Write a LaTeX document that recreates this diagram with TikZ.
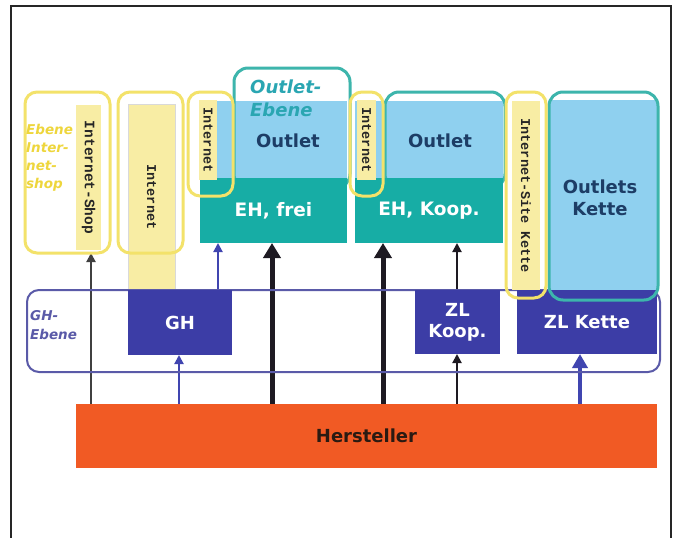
\documentclass[tikz,border=0pt]{standalone}
\usepackage{fontspec}
\setmainfont{DejaVu Sans}
\newfontfamily\monof{Liberation Mono}
\usetikzlibrary{arrows.meta}
\definecolor{ylw}{HTML}{F3E26A}
\definecolor{pale}{HTML}{F8EDA4}
\definecolor{ytext}{HTML}{EED63C}
\definecolor{lb}{HTML}{8FD0EF}
\definecolor{tealc}{HTML}{17ADA5}
\definecolor{tealo}{HTML}{3DB5AC}
\definecolor{tealt}{HTML}{2AA6B2}
\definecolor{navy}{HTML}{1D3D66}
\definecolor{db}{HTML}{3C3DA6}
\definecolor{gho}{HTML}{5A5AA8}
\definecolor{orng}{HTML}{F15A24}
\definecolor{darkt}{HTML}{2A1A12}
\definecolor{arrk}{HTML}{1E1A22}
\definecolor{arrb}{HTML}{4045B0}
\pgfdeclarelayer{back}
\pgfsetlayers{back,main}
\begin{document}
\begin{tikzpicture}[x=1pt,y=-1pt,
  box/.style={anchor=north west, inner sep=0pt, outer sep=0pt},
  ybox/.style={box, draw=ylw, line width=3pt, rounded corners=12pt},
  stripbox/.style={box, fill=pale},
  lbbox/.style={box, fill=lb},
  tealbox/.style={box, fill=tealc, text=white, font=\bfseries\fontsize{18.5}{22}\selectfont},
  toutline/.style={box, draw=tealo, line width=3pt, rounded corners=14pt},
  dbbox/.style={box, fill=db, text=white, align=center, font=\bfseries\fontsize{18}{21}\selectfont},
  vtext/.style={rotate=-90, font=\monof\bfseries\fontsize{13.5}{14}\selectfont, text=black!85, inner sep=0pt},
  navytext/.style={text=navy, align=center, font=\bfseries\fontsize{18}{23}\selectfont, inner sep=0pt},
  thinarr/.style={line width=2pt, -{Triangle[width=9pt,length=9pt]}},
  thickarr/.style={line width=5pt, -{Triangle[width=17pt,length=15pt]}},
]
\useasboundingbox (0,0) rectangle (680,538);
\begin{pgfonlayer}{back}
\fill[white] (0,0) rectangle (680,538);
\end{pgfonlayer}
\draw[line width=1.2pt, black!85] (11,538) -- (11,6) -- (671,6) -- (671,538);

% left internet-shop level
\node[stripbox, minimum width=25pt, minimum height=145pt] (s1) at (76,105) {};
\node[vtext, font=\monof\bfseries\fontsize{14.5}{15}\selectfont] (t1) at (s1.center) {Internet-Shop};
\node[ybox, minimum width=85pt, minimum height=161pt] (b1) at (25,92) {};
\node[anchor=north west, inner sep=0pt, align=left, text=ytext, font=\bfseries\itshape\fontsize{13.5}{18}\selectfont] (l1) at (26,124) {Ebene\\Inter-\\net-\\shop};

\node[stripbox, draw=black!15, line width=0.6pt, minimum width=47pt, minimum height=186pt] (s2) at (128,104) {};
\node[vtext] (t2) at (s2.center) {Internet};
\node[ybox, minimum width=65pt, minimum height=161pt] (b2) at (118,92) {};

% first outlet column
\node[lbbox, minimum width=147pt, minimum height=77pt] (lb1) at (200,101) {};
\node[toutline, minimum width=116pt, minimum height=120pt] (o1) at (234,68) {};
\node[tealbox, minimum width=147pt, minimum height=65pt] (eh1) at (200,178) {EH, frei};
\node[navytext] (ou1) at (288,141) {Outlet};
\node[anchor=north west, inner sep=0pt, align=left, text=tealt, font=\bfseries\itshape\fontsize{18}{23}\selectfont] (oe) at (250,80) {Outlet-\\Ebene};
\node[stripbox, minimum width=18pt, minimum height=80pt] (s3) at (199,100) {};
\node[vtext] (t3) at (s3.center) {Internet};
\node[ybox, minimum width=45pt, minimum height=104pt] (b3) at (188,92) {};

% second outlet column
\node[lbbox, minimum width=148pt, minimum height=77pt] (lb2) at (355,101) {};
\node[toutline, minimum width=120pt, minimum height=96pt] (o2) at (385,92) {};
\node[tealbox, minimum width=148pt, minimum height=65pt] (eh2) at (355,178) {EH, Koop.};
\node[navytext] (ou2) at (440,141) {Outlet};
\node[stripbox, minimum width=19pt, minimum height=80pt] (s4) at (357,100) {};
\node[vtext] (t4) at (s4.center) {Internet};
\node[ybox, minimum width=33pt, minimum height=104pt] (b4) at (350,92) {};

% GH level
\node[box, draw=gho, line width=2pt, rounded corners=12pt, minimum width=633pt, minimum height=82pt] (ghe) at (27,290) {};
\node[anchor=north west, inner sep=0pt, align=left, text=gho, font=\bfseries\itshape\fontsize{13.5}{19}\selectfont] (ghl) at (30,310) {GH-\\Ebene};
\node[dbbox, minimum width=104pt, minimum height=65pt] (gh) at (128,290) {GH};
\node[dbbox, minimum width=85pt, minimum height=64pt] (zlk) at (415,290) {ZL\\Koop.};
\node[dbbox, minimum width=140pt, minimum height=64pt] (zlc) at (517,290) {ZL Kette};

% outlets chain
\node[lbbox, minimum width=109pt, minimum height=190pt] (lb3) at (549,100) {};
\node[navytext, font=\bfseries\fontsize{18}{22}\selectfont] (ou3) at (600,198) {Outlets\\Kette};
\node[toutline, minimum width=109pt, minimum height=208pt] (o3) at (549,92) {};
\node[stripbox, minimum width=28pt, minimum height=189pt] (s5) at (512,101) {};
\node[vtext] (t5) at (s5.center) {Internet-Site Kette};
\node[ybox, minimum width=40pt, minimum height=206pt] (b5) at (506,92) {};

% manufacturer
\node[box, fill=orng, text=darkt, font=\bfseries\fontsize{18}{21}\selectfont, minimum width=581pt, minimum height=64pt] (hers) at (76,404) {Hersteller};

% arrow columns
\coordinate (c1) at (91,0);
\coordinate (c2) at (179,0);
\coordinate (c3) at (218,0);
\coordinate (c4) at (272,0);
\coordinate (c5) at (383,0);
\coordinate (c6) at (457,0);
\coordinate (c7) at (580,0);

\begin{pgfonlayer}{back}
\draw[thinarr, draw=black!75, fill=black!75] (c1 |- hers.north) -- (c1 |- b1.south);
\draw[thinarr, draw=arrb, fill=arrb] (c2 |- hers.north) -- (c2 |- gh.south);
\draw[thinarr, draw=arrb, fill=arrb] (c3 |- gh.north) -- (c3 |- eh1.south);
\draw[thickarr, draw=arrk, fill=arrk] (c4 |- hers.north) -- (c4 |- eh1.south);
\draw[thickarr, draw=arrk, fill=arrk] (c5 |- hers.north) -- (c5 |- eh2.south);
\draw[thinarr, draw=arrk, fill=arrk] (c6 |- hers.north) -- (c6 |- zlk.south);
\draw[thinarr, draw=arrk, fill=arrk] (c6 |- zlk.north) -- (c6 |- eh2.south);
\draw[line width=4.5pt, -{Triangle[width=15pt,length=14pt]}, draw=arrb, fill=arrb] (c7 |- hers.north) -- (c7 |- zlc.south);
\end{pgfonlayer}
\end{tikzpicture}
\end{document}
